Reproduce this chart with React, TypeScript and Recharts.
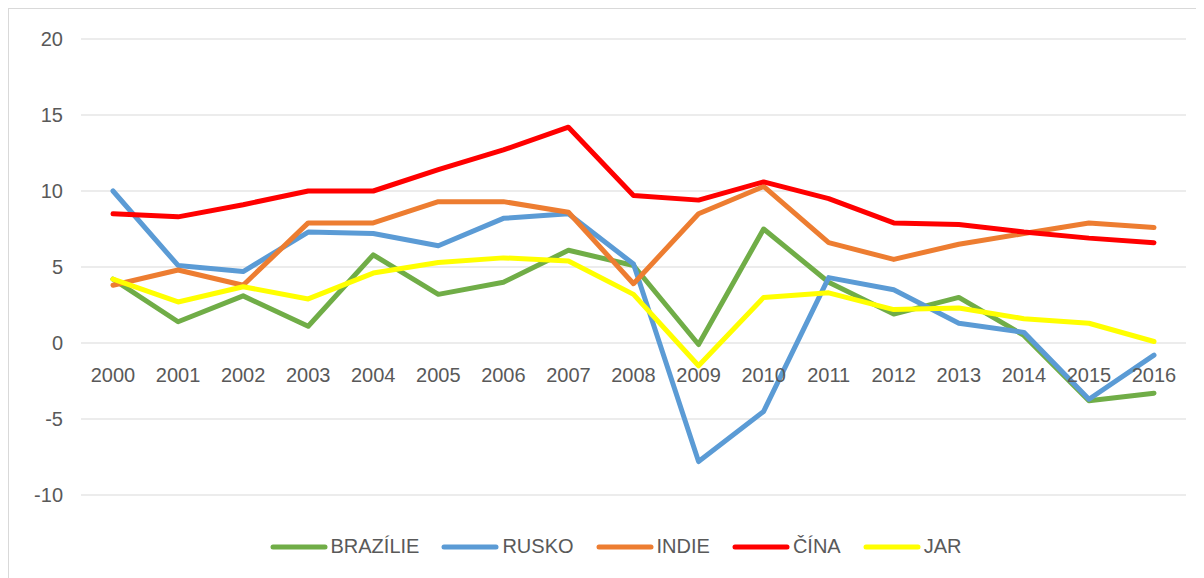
import { Legend, Line, LineChart, CartesianGrid, ReferenceDot, XAxis, YAxis } from "recharts";

const years = [
  "2000", "2001", "2002", "2003", "2004", "2005", "2006", "2007", "2008",
  "2009", "2010", "2011", "2012", "2013", "2014", "2015", "2016",
];

const brazilie = [4.2, 1.4, 3.1, 1.1, 5.8, 3.2, 4.0, 6.1, 5.1, -0.1, 7.5, 4.0, 1.9, 3.0, 0.5, -3.8, -3.3];
const rusko = [10.0, 5.1, 4.7, 7.3, 7.2, 6.4, 8.2, 8.5, 5.2, -7.8, -4.5, 4.3, 3.5, 1.3, 0.7, -3.7, -0.8];
const indie = [3.8, 4.8, 3.8, 7.9, 7.9, 9.3, 9.3, 8.6, 3.9, 8.5, 10.3, 6.6, 5.5, 6.5, 7.2, 7.9, 7.6];
const cina = [8.5, 8.3, 9.1, 10.0, 10.0, 11.4, 12.7, 14.2, 9.7, 9.4, 10.6, 9.5, 7.9, 7.8, 7.3, 6.9, 6.6];
const jar = [4.2, 2.7, 3.7, 2.9, 4.6, 5.3, 5.6, 5.4, 3.2, -1.5, 3.0, 3.3, 2.2, 2.3, 1.6, 1.3, 0.1];

const yTicks = [-10, -5, 0, 5, 10, 15, 20];

const series = [
  { key: "brazilie", name: "BRAZÍLIE", color: "#70AD47" },
  { key: "rusko", name: "RUSKO", color: "#5B9BD5" },
  { key: "indie", name: "INDIE", color: "#ED7D31" },
  { key: "cina", name: "ČÍNA", color: "#FF0000" },
  { key: "jar", name: "JAR", color: "#FFFF00" },
];

const data = years.map((year, i) => ({
  year,
  brazilie: brazilie[i],
  rusko: rusko[i],
  indie: indie[i],
  cina: cina[i],
  jar: jar[i],
}));

const font = "'Liberation Sans', Arial, sans-serif";
const textColor = "#595959";

function ChartLegend() {
  return (
    <div
      style={{
        display: "flex",
        justifyContent: "center",
        alignItems: "center",
        paddingLeft: 48,
        fontFamily: font,
        fontSize: 20,
        color: textColor,
      }}
    >
      {series.map((s) => (
        <div key={s.key} style={{ display: "flex", alignItems: "center", marginRight: 22 }}>
          <svg width={58} height={10}>
            <line x1={3} y1={5} x2={55} y2={5} stroke={s.color} strokeWidth={5} strokeLinecap="round" />
          </svg>
          <span style={{ marginLeft: 3 }}>{s.name}</span>
        </div>
      ))}
    </div>
  );
}

export default function App() {
  return (
    <div
      style={{
        width: 1188,
        height: 570,
        borderTop: "1px solid #d9d9d9",
        borderLeft: "1px solid #d9d9d9",
        boxSizing: "border-box",
        background: "#fff",
      }}
    >
      <LineChart
        width={1187}
        height={569}
        data={data}
        margin={{ top: 30, right: 10, bottom: 83, left: 12 }}
      >
        <CartesianGrid vertical={false} stroke="#d9d9d9" strokeWidth={1} />
        <XAxis dataKey="year" hide padding={{ left: 32, right: 32 }} />
        <YAxis
          width={60}
          domain={[-10, 20]}
          ticks={yTicks}
          axisLine={false}
          tickLine={false}
          tickSize={0}
          tickMargin={18}
          tick={{ fill: textColor, fontSize: 20, fontFamily: font }}
        />
        {years.map((year) => (
          <ReferenceDot
            key={year}
            x={year}
            y={0}
            r={0}
            fill="none"
            stroke="none"
            label={{
              value: year,
              position: "bottom",
              offset: 25,
              fill: textColor,
              fontSize: 20,
              fontFamily: font,
            }}
          />
        ))}
        {series.map((s) => (
          <Line
            key={s.key}
            type="linear"
            dataKey={s.key}
            name={s.name}
            stroke={s.color}
            strokeWidth={5}
            strokeLinecap="round"
            strokeLinejoin="round"
            dot={false}
            activeDot={false}
            isAnimationActive={false}
          />
        ))}
        <Legend
          verticalAlign="middle"
          align="center"
          layout="horizontal"
          wrapperStyle={{ top: 526, left: 0, width: 1187, height: 24 }}
          content={<ChartLegend />}
        />
      </LineChart>
    </div>
  );
}
